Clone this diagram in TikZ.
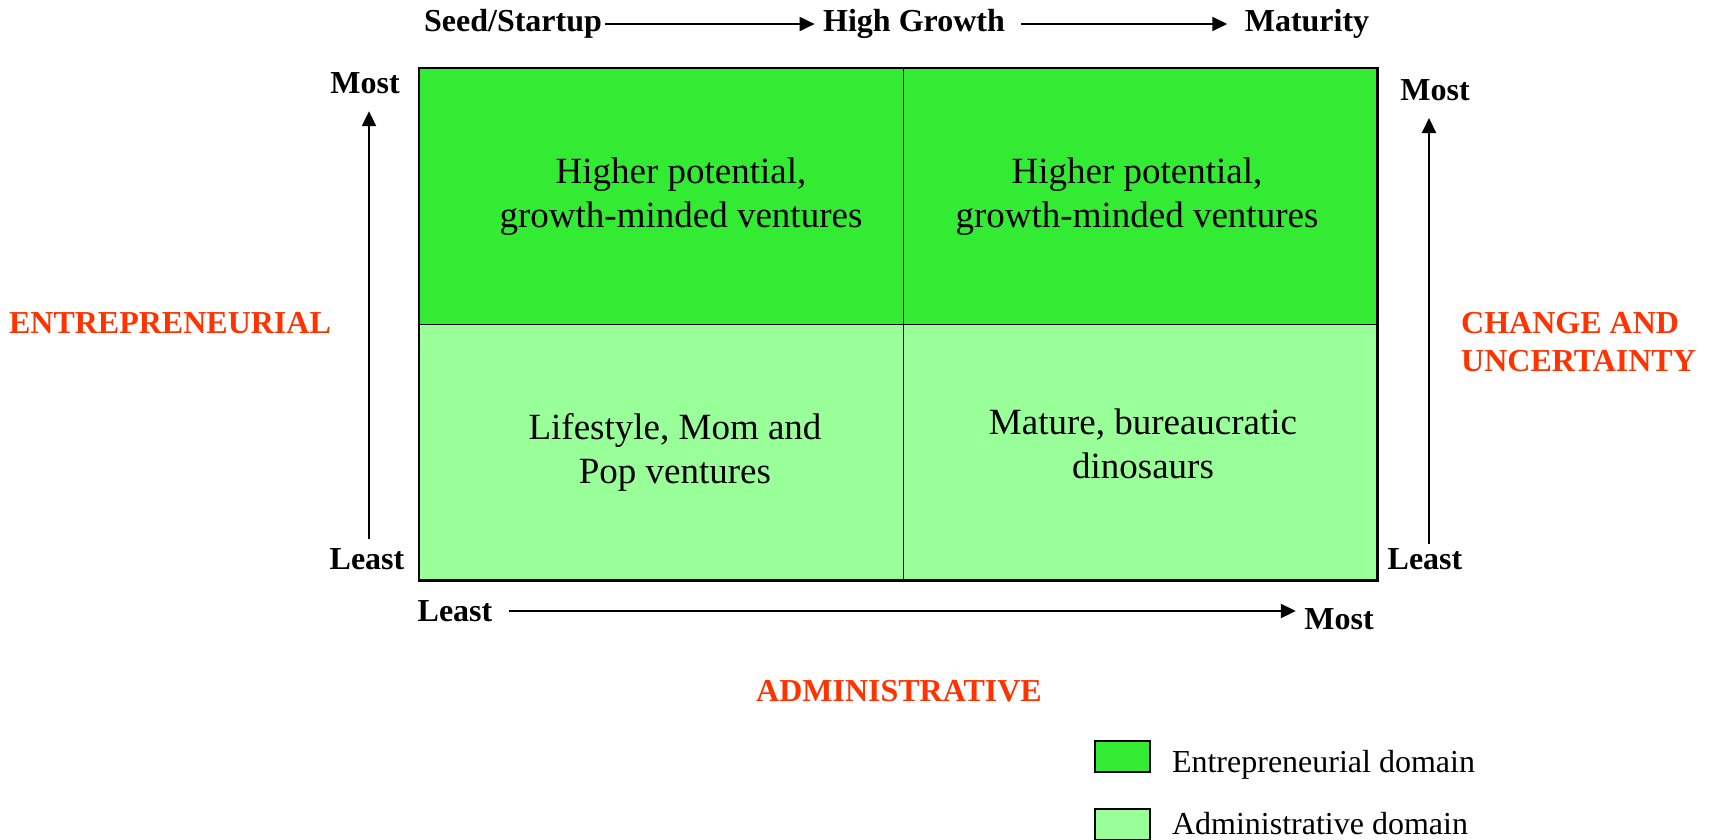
\documentclass[tikz,border=0pt]{standalone}
\usepackage{fontspec}
\setmainfont{Liberation Serif}
\usetikzlibrary{arrows.meta,positioning,calc}
\definecolor{entgreen}{RGB}{51,235,51}
\definecolor{admgreen}{RGB}{153,255,153}
\definecolor{axisred}{RGB}{255,51,0}

\begin{document}
\begin{tikzpicture}[x=1pt,y=-1pt]
\tikzset{
    %Define standard arrow tip
    >={Triangle[length=15pt,width=14pt]},
    %Define style for the cells of the grid
    cell/.style={
           rectangle,
           draw=black, line width=1.2pt,
           inner sep=0pt,
           anchor=north west,
           minimum height=256pt},
    celltext/.style={
           align=center,
           font=\fontsize{37}{44}\selectfont},
    % labels round the grid
    stage/.style={font=\bfseries\fontsize{32}{38}\selectfont},
    axis/.style={font=\bfseries\fontsize{32}{38}\selectfont, text=axisred},
    % Define arrow style
    pil/.style={
           ->,
           line width=2pt},
    legendbox/.style={
           rectangle,
           draw=black, line width=2pt,
           minimum width=55pt,
           minimum height=31pt,
           inner sep=0pt},
    legendtext/.style={font=\fontsize{32}{38}\selectfont}
}
\useasboundingbox (0,0) rectangle (1712,839);
 %grid
 \node[cell, fill=entgreen, minimum width=484pt] (hpleft) at (419,68) {};
 \node[cell, fill=entgreen, minimum width=473pt] (hpright) at (903,68) {};
 \node[cell, fill=admgreen, minimum width=484pt, minimum height=255pt] (lifestyle) at (419,324) {};
 \node[cell, fill=admgreen, minimum width=473pt, minimum height=255pt] (mature) at (903,324) {};
 \draw[line width=2.8pt] (hpleft.north west) rectangle (mature.south east);
 \node[celltext] (hplefttxt) at (681,197) {Higher potential,\\growth-minded ventures};
 \node[celltext] (hprighttxt) at (1137,197) {Higher potential,\\growth-minded ventures};
 \node[celltext] (lifestyletxt) at (675,452) {Lifestyle, Mom and\\Pop ventures};
 \node[celltext] (maturetxt) at (1143,444) {Mature, bureaucratic\\dinosaurs};
 %stages along the top
 \node[stage] (seed) at (513,24) {Seed/Startup};
 \node[stage] (growth) at (914,24) {High Growth};
 \node[stage] (maturity) at (1307,24) {Maturity};
 \draw[pil, shorten >=5pt] (seed) -- (growth);
 \draw[pil, shorten <=13pt, shorten >=14pt] (growth) -- (maturity);
 %left axis
 \node[stage] (mostL) at (365,83) {Most};
 \node[stage] (leastL) at (367,559) {Least};
 \draw[pil, shorten <=6pt, shorten >=14pt] ([xshift=2pt]leastL.north) -- ([xshift=2pt]leastL.north |- mostL.south);
 \node[axis] (entre) at (170,323) {ENTREPRENEURIAL};
 %right axis
 \node[stage] (mostR) at (1435,90) {Most};
 \node[stage] (leastR) at (1425,559) {Least};
 \coordinate (rbottom) at (1429,544);
 \coordinate (rtop) at (1429,118);
 \draw[pil] (rbottom) -- (rtop);
 \node[axis, anchor=west, align=left, inner sep=0pt] (change) at (1461,342) {CHANGE AND\\UNCERTAINTY};
 %bottom axis
 \node[stage] (leastB) at (455,611) {Least};
 \node[stage] (mostB) at (1339,619) {Most};
 \draw[pil, shorten <=13pt, shorten >=5pt] (leastB.east) -- (leastB.east -| mostB.west);
 \node[axis] (admin) at (899,691) {ADMINISTRATIVE};
 %legend
 \node[legendbox, fill=entgreen] (entbox) at (1122,756) {};
 \node[legendbox, fill=admgreen] (admbox) at (1122,824) {};
 \node[legendtext, right=18pt of entbox, yshift=-9pt] (entlabel) {Entrepreneurial domain};
 \node[legendtext, right=18pt of admbox] (admlabel) {Administrative domain};
\end{tikzpicture}
\end{document}
